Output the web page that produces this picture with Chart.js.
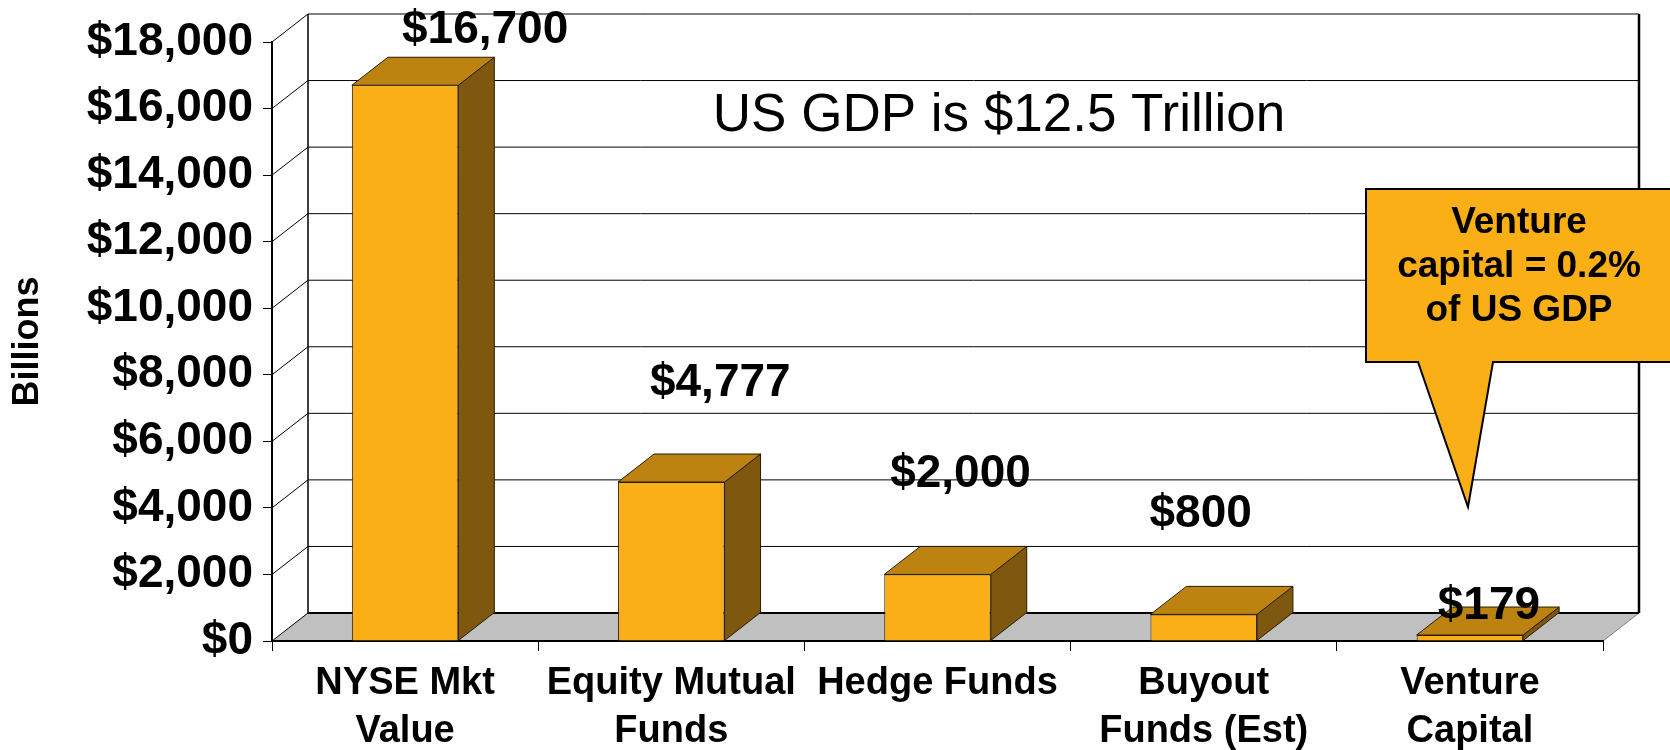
<!DOCTYPE html>
<html>
<head>
<meta charset="utf-8">
<script src="https://cdn.jsdelivr.net/npm/chart.js@4.4.1/dist/chart.umd.min.js"></script>
<style>
  html, body { margin: 0; padding: 0; background: #fff; }
  #wrap { width: 1670px; height: 750px; }
</style>
</head>
<body>
<div id="wrap"><canvas id="chart" width="1670" height="750"></canvas></div>
<script>
// Data (billions of US$)
const categories = [
    ['NYSE Mkt', 'Value'],
    ['Equity Mutual', 'Funds'],
    'Hedge Funds',
    ['Buyout', 'Funds (Est)'],
    ['Venture', 'Capital']
];
const values = [16700, 4777, 2000, 800, 179];
const yMin = 0;
const yMax = 18000;
const yStep = 2000;

const FONT = "'Liberation Sans', Arial, Helvetica, sans-serif";
const FRONT = '#FBAF17';
const TOP = '#BD8311';
const SIDE = '#7E580E';
const FLOOR = '#C0C0C0';

// 3D depth of the walls / bars
const DX = 36;
const DY = -28;

function money(v) {
    return '$' + v.toLocaleString('en-US');
}

const box3d = {
    id: 'box3d',
    beforeDraw(chart) {
        const ctx = chart.ctx;
        const { left, right, top, bottom } = chart.chartArea;
        const y = chart.scales.y;

        ctx.save();
        // floor
        ctx.fillStyle = FLOOR;
        ctx.beginPath();
        ctx.moveTo(left, bottom);
        ctx.lineTo(right, bottom);
        ctx.lineTo(right + DX, bottom + DY);
        ctx.lineTo(left + DX, bottom + DY);
        ctx.closePath();
        ctx.fill();

        ctx.strokeStyle = '#808080';
        ctx.lineWidth = 1;
        ctx.beginPath();
        ctx.moveTo(right, bottom);
        ctx.lineTo(right + DX, bottom + DY);
        ctx.stroke();

        // gridlines on back wall + left wall
        ctx.strokeStyle = '#000';
        y.ticks.forEach(t => {
            const py = y.getPixelForValue(t.value);
            ctx.lineWidth = 1;
            ctx.beginPath();
            ctx.moveTo(left, py);
            ctx.lineTo(left + DX, py + DY);
            ctx.stroke();
            ctx.lineWidth = t.value === yMin ? 2 : 1;
            ctx.beginPath();
            ctx.moveTo(left + DX, py + DY);
            ctx.lineTo(right + DX, py + DY);
            ctx.stroke();
        });

        // wall edges
        ctx.lineWidth = 1.5;
        ctx.beginPath();
        ctx.moveTo(left + DX, top + DY);
        ctx.lineTo(left + DX, bottom + DY);
        ctx.stroke();
        ctx.lineWidth = 2.5;
        ctx.beginPath();
        ctx.moveTo(right + DX, top + DY);
        ctx.lineTo(right + DX, bottom + DY);
        ctx.stroke();
        ctx.restore();
    },
    afterDatasetsDraw(chart) {
        const ctx = chart.ctx;
        const meta = chart.getDatasetMeta(0);
        ctx.save();
        ctx.strokeStyle = '#2a1c00';
        ctx.lineWidth = 1;
        ctx.lineJoin = 'round';
        meta.data.forEach(bar => {
            const { x, y, base, width } = bar.getProps(['x', 'y', 'base', 'width'], true);
            const x1 = x - width / 2;
            const x2 = x + width / 2;
            // side face
            ctx.fillStyle = SIDE;
            ctx.beginPath();
            ctx.moveTo(x2, y);
            ctx.lineTo(x2 + DX, y + DY);
            ctx.lineTo(x2 + DX, base + DY);
            ctx.lineTo(x2, base);
            ctx.closePath();
            ctx.fill();
            ctx.stroke();
            // top face
            ctx.fillStyle = TOP;
            ctx.beginPath();
            ctx.moveTo(x1, y);
            ctx.lineTo(x2, y);
            ctx.lineTo(x2 + DX, y + DY);
            ctx.lineTo(x1 + DX, y + DY);
            ctx.closePath();
            ctx.fill();
            ctx.stroke();
        });
        ctx.restore();
    },
    afterDraw(chart, args, opts) {
        const ctx = chart.ctx;
        const meta = chart.getDatasetMeta(0);
        ctx.save();

        // value labels
        ctx.fillStyle = '#000';
        ctx.textAlign = 'center';
        ctx.textBaseline = 'middle';
        ctx.font = 'bold 46px ' + FONT;
        meta.data.forEach((bar, i) => {
            const { x, y } = bar.getProps(['x', 'y'], true);
            const s = opts.labelShift[i];
            ctx.fillText(money(values[i]), x + s[0], y + DY + s[1]);
        });

        // note
        ctx.font = '53px ' + FONT;
        ctx.fillText('US GDP is $12.5 Trillion', 999, 116);

        // callout
        ctx.fillStyle = FRONT;
        ctx.strokeStyle = '#000';
        ctx.lineWidth = 2;
        ctx.lineJoin = 'miter';
        ctx.beginPath();
        ctx.moveTo(1366, 189);
        ctx.lineTo(1674, 189);
        ctx.lineTo(1674, 362);
        ctx.lineTo(1493, 362);
        ctx.lineTo(1468, 507);
        ctx.lineTo(1418, 362);
        ctx.lineTo(1366, 362);
        ctx.closePath();
        ctx.fill();
        ctx.stroke();

        ctx.fillStyle = '#000';
        ctx.font = 'bold 37px ' + FONT;
        ['Venture', 'capital = 0.2%', 'of US GDP'].forEach((line, i) => {
            ctx.fillText(line, 1519, 223 + i * 44);
        });
        ctx.restore();
    }
};

const ctx = document.getElementById('chart').getContext('2d');
new Chart(ctx, {
    type: 'bar',
    data: {
        labels: categories,
        datasets: [{
            data: values,
            backgroundColor: FRONT,
            borderColor: '#2a1c00',
            borderWidth: 1,
            categoryPercentage: 1,
            barPercentage: 0.4
        }]
    },
    options: {
        responsive: false,
        animation: false,
        devicePixelRatio: 1,
        layout: { padding: { top: 42, right: 67, bottom: 0, left: 0 } },
        plugins: {
            legend: { display: false },
            tooltip: { enabled: false },
            box3d: {
                labelShift: [[80, -27], [49, -71], [23, -72], [-3, -72], [19, -1]]
            }
        },
        scales: {
            x: {
                grid: {
                    offset: true,
                    drawOnChartArea: false,
                    drawTicks: true,
                    tickLength: 10,
                    color: '#000'
                },
                border: { display: true, color: '#000', width: 2 },
                ticks: {
                    color: '#000',
                    padding: 8,
                    autoSkip: false,
                    maxRotation: 0,
                    font: { family: FONT, size: 38, weight: 'bold', lineHeight: 1.27 }
                },
                afterFit(scale) {
                    scale.height = 109;
                }
            },
            y: {
                min: yMin,
                max: yMax,
                grid: {
                    drawOnChartArea: false,
                    drawTicks: true,
                    tickLength: 9,
                    color: '#000'
                },
                border: { display: true, color: '#000', width: 2 },
                ticks: {
                    stepSize: yStep,
                    color: '#000',
                    padding: 10,
                    autoSkip: false,
                    font: { family: FONT, size: 46, weight: 'bold' },
                    callback: v => money(v)
                },
                title: {
                    display: true,
                    text: 'Billions',
                    color: '#000',
                    padding: { top: 6, bottom: 0 },
                    font: { family: FONT, size: 36, weight: 'bold' }
                },
                afterFit(scale) {
                    scale.width = 272;
                }
            }
        }
    },
    plugins: [box3d]
});
</script>
</body>
</html>
